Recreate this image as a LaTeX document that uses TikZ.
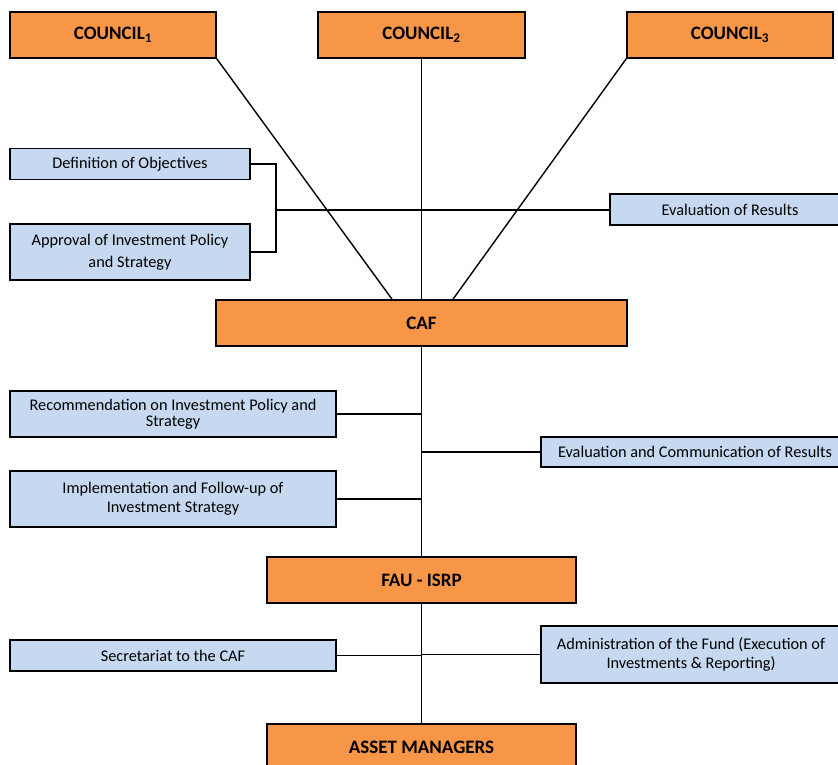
\documentclass[tikz,border=0pt]{standalone}
\usepackage{fontspec}
\setmainfont{Carlito}
\usepackage{tikz}
\usetikzlibrary{positioning}
\definecolor{boxorange}{HTML}{F79646}
\definecolor{boxblue}{HTML}{C6D9F1}

\tikzset{
 council/.style={draw=black,line width=1.6pt,fill=boxorange,minimum height=46,
  font=\fontsize{19}{21}\selectfont\bfseries,inner sep=0pt},
 task/.style={draw=black,line width=1.5pt,fill=boxblue,align=center,
  font=\fontsize{16.3}{19}\selectfont,inner sep=0pt},
 link/.style={line width=1.4pt}
}

\begin{document}
\begin{tikzpicture}[x=1pt,y=-1pt]
 \useasboundingbox (0,0) rectangle (838,765);
 \clip (0,0) rectangle (838,765);
 % top level
 \node[council,minimum width=206] (c1) at (113,35) {COUNCIL\textsubscript{1}};
 \node[council,minimum width=207] (c2) at (421.5,35) {COUNCIL\textsubscript{2}};
 \node[council,minimum width=206] (c3) at (730,35) {COUNCIL\textsubscript{3}};
 \node[council,minimum width=411] (caf) at (421.5,323) {CAF};
 \node[council,minimum width=309] (fau) at (421.5,580) {FAU - ISRP};
 \node[council,minimum width=309] (asset) at (421.5,747) {ASSET MANAGERS};
 % tasks
 \node[task,minimum width=240,minimum height=31] (def) at (130,164) {Definition of Objectives};
 \node[task,minimum width=240,minimum height=56,font=\fontsize{16.3}{22}\selectfont] (appr) at (130,252) {Approval of Investment Policy\\and Strategy};
 \node[task,minimum width=232,minimum height=31] (evres) at (726,209.5) {\hspace*{8pt}Evaluation of Results};
 \node[task,minimum width=326,minimum height=46,font=\fontsize{16.3}{16.5}\selectfont] (rec) at (173,414) {Recommendation on Investment Policy and\\Strategy};
 \node[task,minimum width=326,minimum height=56] (impl) at (173,499) {Implementation and Follow-up of\\Investment Strategy};
 \node[task,minimum width=300,minimum height=30] (evcom) at (691,452) {\hspace*{8pt}Evaluation and Communication of Results};
 \node[task,minimum width=326,minimum height=31] (sec) at (173,655.5) {Secretariat to the CAF};
 \node[task,minimum width=300,minimum height=57] (adm) at (691,654.5) {Administration of the Fund (Execution of\\Investments \& Reporting)};
 \coordinate (brk) at (276,210);
 % lines
 \draw[link] (c1.south east) -- ([xshift=-29.5pt]caf.north);
 \draw[link] (c2.south) -- (caf.north);
 \draw[link] (c3.south west) -- ([xshift=31.5pt]caf.north);
 \draw[link] (caf.south) -- (fau.north);
 \draw[link] (fau.south) -- (asset.north);
 \draw[link] (def.east) -| (brk) |- (appr.east);
 \draw[link] (brk) -- (brk -| evres.west);
 \foreach \t in {rec,impl}
  \draw[link] (\t.east) -- (\t.east -| caf.south);
 \draw[link] (evcom.west) -- (evcom.west -| caf.south);
 \draw[link] (sec.east) -- (sec.east -| fau.south);
 \draw[link] (adm.west) -- (adm.west -| fau.south);
\end{tikzpicture}
\end{document}
